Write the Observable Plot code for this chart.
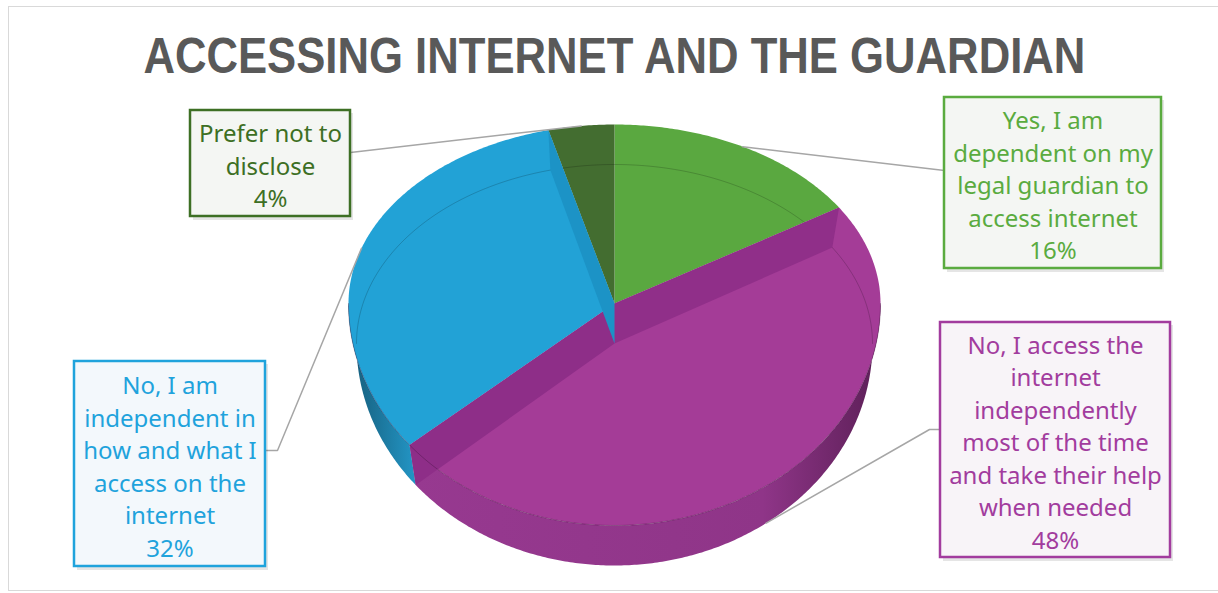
<!DOCTYPE html>
<html>
<head>
<meta charset="utf-8">
<script src="https://cdn.jsdelivr.net/npm/d3@7"></script>
<script src="https://cdn.jsdelivr.net/npm/@observablehq/plot@0.6"></script>
<style>
  html, body { margin: 0; padding: 0; background: #fff; }
  #fig { position: relative; width: 1218px; height: 593px; overflow: hidden; background: #fff; }
  #frame { position: absolute; left: 8px; top: 6px; width: 1240px; height: 583px; border: 1px solid #d9d9d9; }
  #title { position: absolute; left: 0; top: 31px; width: 1228px; text-align: center; }
  #title span { display: inline-block; transform-origin: 50% 50%;
    font-family: "Liberation Sans", Arial, sans-serif;
    font-weight: bold; font-size: 50px; line-height: 50px; color: #595959; white-space: nowrap; }
  #chart { position: absolute; left: 0; top: 95px; }
</style>
</head>
<body>
<div id="fig">
  <div id="frame"></div>
  <div id="title"><span>ACCESSING INTERNET AND THE GUARDIAN</span></div>
  <div id="chart"></div>
</div>
<script>
// ---- data ----
const categories = [
  "Yes, I am dependent on my legal guardian to access internet",
  "No, I access the internet independently most of the time and take their help when needed",
  "No, I am independent in how and what I access on the internet",
  "Prefer not to disclose"
];
const shares = [16, 48, 32, 4];
const labelText = [
  "Yes, I am\ndependent on my\nlegal guardian to\naccess internet",
  "No, I access the\ninternet\nindependently\nmost of the time\nand take their help\nwhen needed",
  "No, I am\nindependent in\nhow and what I\naccess on the\ninternet",
  "Prefer not to\ndisclose"
];

// ---- styles ----
const topColors = ["#5aa840", "#a43c97", "#22a2d6", "#436d30"];
const textColors = ["#5aab3f", "#a23c9e", "#1fa3dc", "#3d6f24"];
const boxFills = ["#f4f6f3", "#f8f4f8", "#f3f8fc", "#f4f6f3"];

// ---- layout (pixel space of the figure) ----
const CX = 614, CY = 303, RX = 266, RXB = 258, RYU = 179, RYL = 222, DEPTH = 40;
const boxes = [
  {x1: 944, y1: 97, x2: 1161, y2: 268, path: [[944, 170]]},
  {x1: 940, y1: 322, x2: 1170, y2: 557, path: [[940, 429], [929, 429]]},
  {x1: 74, y1: 361, x2: 265, y2: 566, path: [[265, 450], [277, 450]]},
  {x1: 190, y1: 110, x2: 350, y2: 216, path: [[350, 152]]}
];

// ---- geometry from data ----
const arcs = d3.pie().sort(null).value(d => d)(shares);
const topPt = t => { const c = Math.cos(t); return [CX + RX * Math.sin(t), CY - (c >= 0 ? RYU : RYL) * c]; };
const botPt = t => { const c = Math.cos(t); return [CX + RXB * Math.sin(t), CY + DEPTH - (c >= 0 ? RYU : RYL) * c]; };
function arcPts(f, a0, a1) {
  const n = Math.max(2, Math.ceil(Math.abs(a1 - a0) / 0.01));
  return d3.range(n + 1).map(i => f(a0 + (a1 - a0) * i / n));
}
const poly = (pts, o) => Plot.line(pts, {x: d => d[0], y: d => d[1], curve: "linear-closed", stroke: "none", ...o});
const path = (pts, o) => Plot.line(pts, {x: d => d[0], y: d => d[1], fill: "none", ...o});

const marks = [];
// side walls (front half only)
const sideFills = ["#4a8f33", "url(#gPurple)", "url(#gBlue)", "#365a26"];
arcs.forEach((a, i) => {
  const lo = Math.max(a.startAngle, Math.PI / 2), hi = Math.min(a.endAngle, 3 * Math.PI / 2);
  if (lo < hi) marks.push(poly([...arcPts(topPt, lo, hi), ...arcPts(botPt, hi, lo)], {fill: sideFills[i]}));
});
// top faces
arcs.forEach((a, i) => {
  marks.push(poly([[CX, CY], ...arcPts(topPt, a.startAngle, a.endAngle)], {fill: topColors[i]}));
});
// bottom face outline seen through the translucent top
marks.push(path(arcPts(botPt, -Math.PI / 2, Math.PI / 2), {stroke: "#000", strokeOpacity: 0.18, strokeWidth: 1}));
// radial walls seen through the top
const wall = t => [[CX, CY], topPt(t), botPt(t), [CX, CY + DEPTH]];
marks.push(poly(wall(arcs[1].startAngle), {fill: "#902f89"}));
marks.push(poly(wall(arcs[1].endAngle), {fill: "#8e2e88"}));
marks.push(poly(wall(arcs[2].endAngle), {fill: "#1c93c6"}));
// top rim front edge
marks.push(path(arcPts(topPt, Math.PI / 2, 3 * Math.PI / 2), {stroke: "#3a0f36", strokeOpacity: 0.35, strokeWidth: 1}));

// leader lines
arcs.forEach((a, i) => {
  const m = (a.startAngle + a.endAngle) / 2;
  const anchor = (m > Math.PI / 2 && m < 3 * Math.PI / 2 && i === 1) ? botPt(m) : topPt(m);
  marks.push(path([...boxes[i].path, anchor], {stroke: "#a6a6a6", strokeWidth: 1.5}));
});
// label boxes
const boxData = boxes.map((b, i) => ({...b, i, text: labelText[i] + "\n" + shares[i] + "%"}));
marks.push(Plot.rect(boxData, {x1: d => d.x1 + 3, x2: d => d.x2 + 3, y1: d => d.y1 + 3, y2: d => d.y2 + 4, fill: "#000", fillOpacity: 0.10}));
marks.push(Plot.rect(boxData, {x1: "x1", x2: "x2", y1: "y1", y2: "y2", fill: d => boxFills[d.i], stroke: d => textColors[d.i], strokeWidth: 2.5}));
marks.push(Plot.text(boxData, {
  x: d => (d.x1 + d.x2) / 2, y: d => (d.y1 + d.y2) / 2 + 1, text: "text",
  fill: d => textColors[d.i], fontSize: 24, lineHeight: 1.354, textAnchor: "middle",
  fontFamily: "'Noto Sans', 'Open Sans', sans-serif"
}));

const chart = Plot.plot({
  width: 1218, height: 498, margin: 0,
  x: {domain: [0, 1218], range: [0, 1218], axis: null},
  y: {domain: [95, 593], range: [0, 498], axis: null},
  color: {type: "identity"},
  style: {background: "transparent", overflow: "visible"},
  marks
});
const ns = "http://www.w3.org/2000/svg";
const defs = document.createElementNS(ns, "defs");
defs.innerHTML = `
  <linearGradient id="gPurple" x1="0" x2="1" y1="0" y2="0">
    <stop offset="0" stop-color="#973990"/><stop offset="0.75" stop-color="#8f3588"/><stop offset="1" stop-color="#5c1f57"/>
  </linearGradient>
  <linearGradient id="gBlue" x1="0" x2="1" y1="0" y2="0">
    <stop offset="0" stop-color="#155b78"/><stop offset="1" stop-color="#2396c6"/>
  </linearGradient>`;
chart.insertBefore(defs, chart.firstChild);
document.getElementById("chart").appendChild(chart);

// fit the title to the reference width (condensed look)
const span = document.querySelector("#title span");
const w = span.getBoundingClientRect().width;
span.style.transform = `scaleX(${942 / w})`;
</script>
</body>
</html>
